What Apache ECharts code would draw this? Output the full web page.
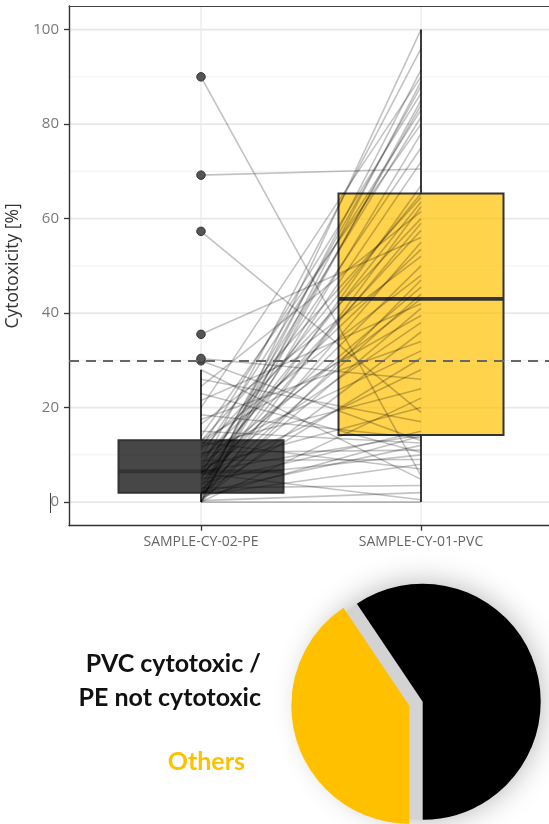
<!DOCTYPE html>
<html><head><meta charset="utf-8">
<script src="https://cdn.jsdelivr.net/npm/echarts@6/dist/echarts.min.js"></script>
<style>html,body{margin:0;padding:0;background:#fff}#c{width:549px;height:824px}</style>
</head><body><div id="c"></div>
<script>
// ---------- data ----------
const categories = ['SAMPLE-CY-02-PE', 'SAMPLE-CY-01-PVC'];
const yTicks = [0, 20, 40, 60, 80, 100];
const yMinorTicks = [10, 30, 50, 70, 90];
const threshold = 30;
// box statistics: [lower whisker, Q1, median, Q3, upper whisker]
const peBox = [0, 2.0, 6.5, 13.1, 28.0];
const pvcBox = [0, 14.2, 43.0, 65.3, 100];
const peOutliers = [29.9, 30.4, 35.5, 57.3, 69.2, 90];
// paired samples (PE value, PVC value)
const pePaired = [0,0,0,0,0,0,0,0.3,0.5,0.8,1,1.2,1.4,1.5,1.7,1.8,1.9,2.0,2.3,2.6,3,3.3,3.6,4,4.3,4.6,5,5.2,5.5,5.8,6,6.1,6.3,6.4,6.5,6.8,7.1,7.5,8,8.4,8.8,9.2,9.6,10,10.5,11,11.4,11.8,12.2,12.6,12.9,13.1,14,15,16.5,17.5,18.5,20,21.5,23,24.5,26,28,29.9,30.4,35.5,57.3,69.2,90];
const pvcPaired = [0,85,100,47,62.5,22,89,2,36,78,14,55,91.5,8,41,67,30.5,12,84,44,3.5,59,72,15,50,88,10,63.5,28,81.5,45.5,0.5,38,75,14.2,57.5,96,20,43,65.3,9,53.5,83,32,11,60,86.5,24,48,7,64.5,39.5,80,12.5,52,34,13.5,90,42,10.5,61.5,17,4.8,13,26,56,19,70.5,5.6];
const pieNames = ['PVC cytotoxic /\nPE not cytotoxic', 'Others'];
const pieValues = [41, 28];

// ---------- styles ----------
const boxFills = ['rgba(0,0,0,0.72)', 'rgba(255,192,0,0.70)'];
const dark = '#333333';
const boxWidthUnits = 0.75;

const chart = echarts.init(document.getElementById('c'));

const gridData = [];
yTicks.forEach(v => gridData.push([1, v, 0]));
yMinorTicks.forEach(v => gridData.push([1, v, 1]));
[1, 2].forEach(x => gridData.push([x, 50, 2]));

const boxData = [[1].concat(peBox), [2].concat(pvcBox)];
const pairData = pePaired.map((v, i) => [v, pvcPaired[i]]);
const outlierData = peOutliers.map(v => [1, v]);

const pieTotal = pieValues.reduce((a, b) => a + b, 0);

const option = {
  animation: false,
  grid: { left: 69, top: 6, width: 484, height: 519.7, outerBoundsMode: 'none', containLabel: false, show: false },
  xAxis: [{
    type: 'value', min: 0.4, max: 2.6, position: 'bottom',
    axisLine: { show: true, onZero: false, lineStyle: { color: dark, width: 1.4 } },
    axisTick: { show: true, customValues: [1, 2], length: 5, lineStyle: { color: dark, width: 1.3 } },
    axisLabel: { customValues: [1, 2], formatter: v => categories[Math.round(v) - 1], color: '#666', fontSize: 14, fontFamily: 'Open Sans', margin: 9 },
    splitLine: { show: false }
  }, {
    type: 'value', min: 0.4, max: 2.6, position: 'top',
    axisLine: { show: true, onZero: false, lineStyle: { color: '#444', width: 1.2 } },
    axisTick: { show: false }, axisLabel: { show: false }, splitLine: { show: false }
  }],
  yAxis: {
    type: 'value', min: -5, max: 105,
    name: 'Cytotoxicity [%]', nameLocation: 'middle', nameGap: 41,
    nameTextStyle: { color: '#333', fontSize: 17.5, fontFamily: 'Open Sans' },
    axisLine: { show: true, onZero: false, lineStyle: { color: dark, width: 1.4 } },
    axisTick: { show: true, customValues: yTicks, length: 5, lineStyle: { color: dark, width: 1.3 } },
    axisLabel: { customValues: yTicks, color: '#7a7a7a', fontSize: 15, fontFamily: 'Open Sans', margin: 10 },
    splitLine: { show: false }
  },
  graphic: [
    { type: 'line', shape: { x1: 50.5, y1: 493, x2: 50.5, y2: 513 }, style: { stroke: '#444', lineWidth: 1 } },
    { type: 'text', x: 261, y: 680.5, style: { text: pieNames[0], align: 'right', verticalAlign: 'middle', font: 'bold 25px Lato', fill: '#111', lineHeight: 34 } },
    { type: 'text', x: 245, y: 762.4, style: { text: pieNames[1], align: 'right', verticalAlign: 'middle', font: 'bold 25px Lato', fill: '#FFC000' } }
  ],
  series: [
    {
      type: 'custom', name: 'gridlines', silent: true, z: 0, data: gridData,
      renderItem: (params, api) => {
        const cs = params.coordSys;
        const kind = api.value(2);
        if (kind === 2) {
          const p = api.coord([api.value(0), 0]);
          return { type: 'line', shape: { x1: p[0], y1: cs.y, x2: p[0], y2: cs.y + cs.height }, style: { stroke: '#ebebeb', lineWidth: 1.4 } };
        }
        const p = api.coord([1, api.value(1)]);
        return { type: 'line', shape: { x1: cs.x, y1: p[1], x2: cs.x + cs.width, y2: p[1] }, style: { stroke: kind === 0 ? '#e8e8e8' : '#efefef', lineWidth: kind === 0 ? 1.6 : 0.9 } };
      }
    },
    {
      type: 'custom', name: 'boxes', silent: true, z: 2, data: boxData,
      renderItem: (params, api) => {
        const x = api.value(0);
        const v = [1, 2, 3, 4, 5].map(i => api.value(i));
        const half = api.size([boxWidthUnits, 0])[0] / 2;
        const c = v.map(val => api.coord([x, val]));
        const cx = c[0][0];
        return {
          type: 'group', children: [
            { type: 'line', shape: { x1: cx, y1: c[1][1], x2: cx, y2: c[0][1] }, style: { stroke: dark, lineWidth: 1.9 } },
            { type: 'line', shape: { x1: cx, y1: c[3][1], x2: cx, y2: c[4][1] }, style: { stroke: dark, lineWidth: 1.9 } },
            { type: 'rect', shape: { x: cx - half, y: c[3][1], width: 2 * half, height: c[1][1] - c[3][1] }, style: { fill: boxFills[params.dataIndex], stroke: dark, lineWidth: 2 } },
            { type: 'line', shape: { x1: cx - half, y1: c[2][1], x2: cx + half, y2: c[2][1] }, style: { stroke: dark, lineWidth: 3.8 } }
          ]
        };
      }
    },
    {
      type: 'custom', name: 'pairs', silent: true, z: 3, data: pairData,
      renderItem: (params, api) => {
        const a = api.coord([1, api.value(0)]);
        const b = api.coord([2, api.value(1)]);
        return { type: 'line', shape: { x1: a[0], y1: a[1], x2: b[0], y2: b[1] }, style: { stroke: 'rgba(0,0,0,0.24)', lineWidth: 1.6 } };
      }
    },
    {
      type: 'scatter', name: 'outliers', silent: true, z: 4, data: outlierData,
      symbolSize: 8.5, itemStyle: { color: '#555', borderColor: '#333', borderWidth: 1, opacity: 1 },
      markLine: {
        silent: true, symbol: ['none', 'none'], label: { show: false },
        lineStyle: { type: [10, 7], color: '#666', width: 2 },
        data: [{ yAxis: threshold }]
      }
    },
    {
      type: 'pie', name: 'backing', silent: true, z: 1, center: [422.7, 701.7], radius: 118,
      label: { show: false }, labelLine: { show: false }, emphasis: { disabled: true },
      data: [{ value: 1, itemStyle: { color: '#d3d3d3', shadowBlur: 30, shadowColor: 'rgba(0,0,0,0.3)' } }]
    },
    {
      type: 'pie', name: 'share', silent: true, z: 2, center: [422.7, 701.7], radius: 118,
      startAngle: -90 + 360 * pieValues[0] / pieTotal, clockwise: true,
      selectedMode: 'single', selectedOffset: 14,
      label: { show: false }, labelLine: { show: false }, emphasis: { disabled: true },
      data: [
        { name: pieNames[0], value: pieValues[0], itemStyle: { color: '#000000' } },
        { name: pieNames[1], value: pieValues[1], selected: true, itemStyle: { color: '#FFC000' } }
      ]
    }
  ]
};
chart.setOption(option);
</script>
</body></html>
